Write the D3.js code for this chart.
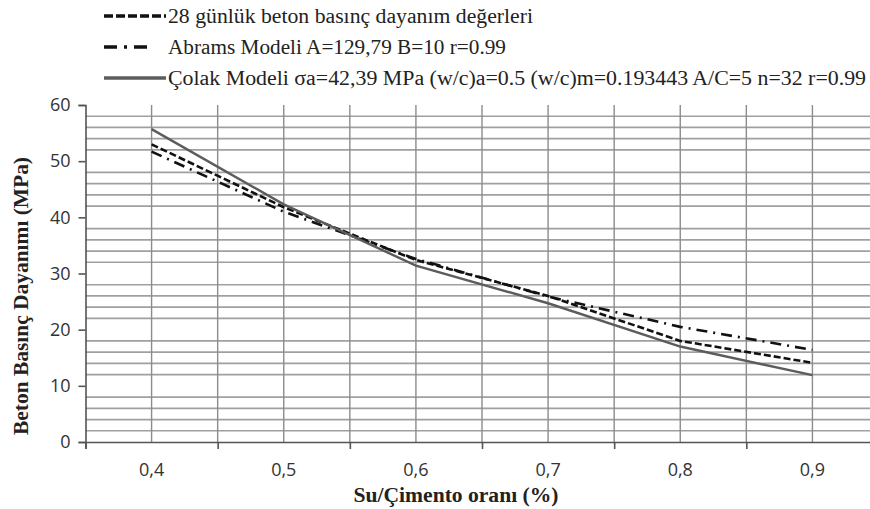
<!DOCTYPE html>
<html>
<head>
<meta charset="utf-8">
<script src="https://cdn.jsdelivr.net/npm/d3@7"></script>
<style>
  body { margin: 0; background: #fff; }
  svg { display: block; }
</style>
</head>
<body>
<svg id="chart" width="870" height="509"></svg>
<script>
// w/c ratios and strengths (MPa)
const wcRatios = [0.4, 0.5, 0.6, 0.7, 0.8, 0.9];
const deneyValues = [53.0, 41.8, 32.4, 26.0, 18.0, 14.1];
const abramsValues = [51.7, 41.0, 32.6, 25.9, 20.5, 16.4];
const colakValues = [55.7, 42.3, 31.4, 24.7, 17.0, 11.9];

const xTickLabels = ["0,4", "0,5", "0,6", "0,7", "0,8", "0,9"];
const yTickValues = [0, 10, 20, 30, 40, 50, 60];
const legendLabels = [
    "28 günlük beton basınç dayanım değerleri",
    "Abrams Modeli A=129,79 B=10 r=0.99",
    "Çolak Modeli σa=42,39 MPa  (w/c)a=0.5 (w/c)m=0.193443 A/C=5 n=32 r=0.99"
];

const svg = d3.select("#chart");

const x = d3.scaleLinear().domain([0.35, 0.95]).range([85.5, 878.5]);
const y = d3.scaleLinear().domain([0, 60]).range([442, 105]);

const series = [
    { name: legendLabels[0], values: deneyValues, stroke: "#111", width: 2.6, dash: "7,3", legendDash: "9,3" },
    { name: legendLabels[1], values: abramsValues, stroke: "#111", width: 2.6, dash: "11,6,2,6", legendDash: "13,7,3,7" },
    { name: legendLabels[2], values: colakValues, stroke: "#5c5c5c", width: 2.4, dash: null, legendDash: null }
];

// horizontal minor grid every 2 (not on the 10s)
const hGrid = d3.range(2, 60, 2).filter(v => v % 10 !== 0);
svg.append("g")
    .selectAll("line")
    .data(hGrid)
    .join("line")
    .attr("x1", x(0.35))
    .attr("x2", 870)
    .attr("y1", d => y(d))
    .attr("y2", d => y(d))
    .attr("stroke", "#a0a0a0")
    .attr("stroke-width", 1.7);

// vertical grid every 0.05
const vGrid = d3.range(0.4, 0.951, 0.05);
svg.append("g")
    .selectAll("line")
    .data(vGrid)
    .join("line")
    .attr("x1", d => x(d))
    .attr("x2", d => x(d))
    .attr("y1", y(60))
    .attr("y2", y(0))
    .attr("stroke", "#8c8c8c")
    .attr("stroke-width", 1.4);

// y axis
const yAxis = svg.append("g")
    .attr("transform", `translate(${x(0.35)},0)`)
    .call(d3.axisLeft(y).tickValues(yTickValues).tickSize(7).tickPadding(8));
yAxis.select(".domain").attr("stroke", "#555").attr("stroke-width", 1.6);
yAxis.selectAll(".tick line").attr("stroke", "#555").attr("stroke-width", 1.6);
yAxis.selectAll(".tick text")
    .attr("font-family", "'Open Sans', sans-serif")
    .attr("font-size", 18)
    .attr("fill", "#333");

// x axis: ticks between categories, labels on them
const xAxis = svg.append("g")
    .attr("transform", `translate(0,${y(0)})`)
    .call(d3.axisBottom(x).tickValues(d3.range(0.35, 0.96, 0.1)).tickSize(7).tickFormat(""));
xAxis.select(".domain").attr("stroke", "#555").attr("stroke-width", 1.6);
xAxis.selectAll(".tick line").attr("stroke", "#555").attr("stroke-width", 1.6);

svg.append("g")
    .selectAll("text")
    .data(wcRatios)
    .join("text")
    .attr("x", d => x(d))
    .attr("y", 476)
    .attr("text-anchor", "middle")
    .attr("font-family", "'Open Sans', sans-serif")
    .attr("font-size", 18)
    .attr("fill", "#333")
    .text((d, i) => xTickLabels[i]);

// axis titles
svg.append("text")
    .attr("x", 456)
    .attr("y", 502)
    .attr("text-anchor", "middle")
    .attr("font-family", "'Liberation Serif', 'Times New Roman', serif")
    .attr("font-weight", "bold")
    .attr("font-size", 20)
    .attr("fill", "#222")
    .attr("textLength", 205)
    .attr("lengthAdjust", "spacingAndGlyphs")
    .text("Su/Çimento oranı (%)");

svg.append("text")
    .attr("transform", "translate(28,296) rotate(-90)")
    .attr("text-anchor", "middle")
    .attr("font-family", "'Liberation Serif', 'Times New Roman', serif")
    .attr("font-weight", "bold")
    .attr("font-size", 20)
    .attr("fill", "#222")
    .attr("textLength", 278)
    .attr("lengthAdjust", "spacingAndGlyphs")
    .text("Beton Basınç Dayanımı (MPa)");

// lines
const line = d3.line()
    .x((d, i) => x(wcRatios[i]))
    .y(d => y(d));

svg.append("g")
    .selectAll("path")
    .data(series)
    .join("path")
    .attr("d", d => line(d.values))
    .attr("fill", "none")
    .attr("stroke", d => d.stroke)
    .attr("stroke-width", d => d.width)
    .attr("stroke-dasharray", d => d.dash);

// legend
const legendY = [16, 47, 78];
const legendSampleEnd = [166, 152, 166];
const legendTextLen = [365, 338, 698];

const legend = svg.append("g")
    .selectAll("g")
    .data(series)
    .join("g")
    .attr("transform", (d, i) => `translate(0,${legendY[i]})`);

legend.append("line")
    .attr("x1", 104)
    .attr("x2", (d, i) => legendSampleEnd[i])
    .attr("stroke", d => d.stroke)
    .attr("stroke-width", 3.4)
    .attr("stroke-dasharray", d => d.legendDash);

legend.append("text")
    .attr("x", 168)
    .attr("dy", "0.35em")
    .attr("font-family", "'Liberation Serif', 'Times New Roman', serif")
    .attr("font-size", 20)
    .attr("fill", "#222")
    .attr("textLength", (d, i) => legendTextLen[i])
    .attr("lengthAdjust", "spacingAndGlyphs")
    .text(d => d.name);
</script>
</body>
</html>
